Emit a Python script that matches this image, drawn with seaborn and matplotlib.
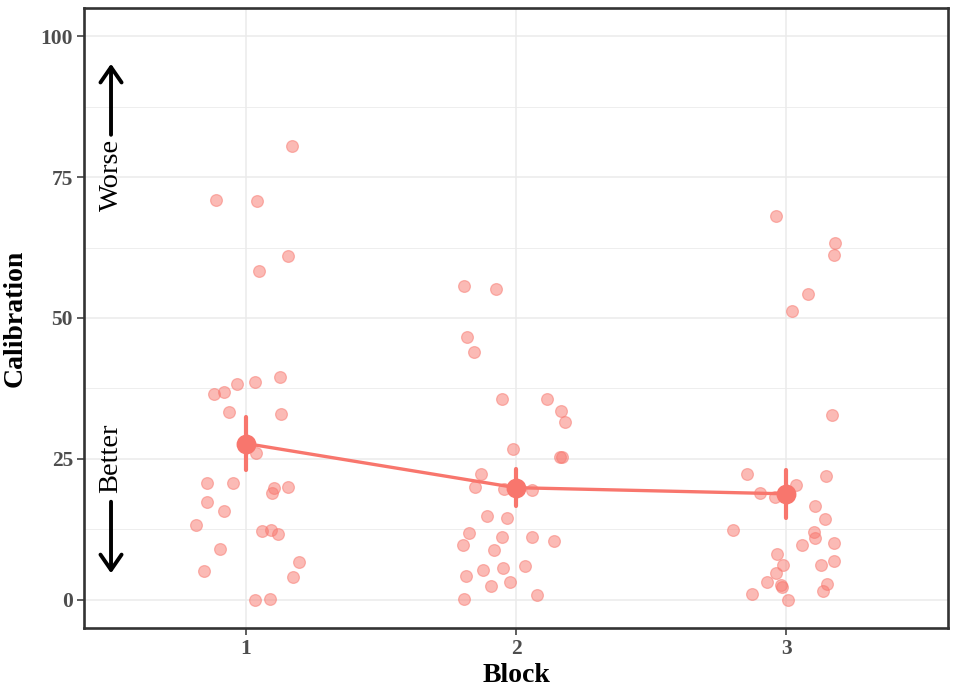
import pandas as pd
import matplotlib.pyplot as plt
import seaborn as sns
from matplotlib.ticker import MultipleLocator

# jittered block positions and calibration scores
block1_x = [1.172, 0.888, 1.042, 1.155, 1.048, 0.880, 0.919, 0.966, 1.033, 1.124,
            0.936, 1.131, 1.037, 0.854, 0.953, 1.104, 1.156, 1.095, 0.857, 0.918,
            0.816, 1.060, 1.091, 1.119, 0.904, 1.196, 0.844, 1.174, 1.033, 1.088]
block1_y = [80.6, 71.0, 70.8, 61.0, 58.3, 36.6, 36.9, 38.2, 38.7, 39.6,
            33.4, 32.9, 26.0, 20.8, 20.7, 19.9, 20.0, 18.9, 17.3, 15.8,
            13.3, 12.2, 12.3, 11.6, 9.0, 6.7, 5.1, 4.0, 0.0, 0.2]

block2_x = [1.808, 1.925, 1.820, 1.846, 1.948, 2.114, 2.165, 2.180, 1.990, 2.163,
            2.172, 1.870, 1.848, 1.956, 2.059, 1.892, 1.968, 1.825, 1.948, 2.059,
            2.139, 1.804, 1.917, 2.032, 1.950, 1.876, 1.813, 1.909, 1.977, 2.079, 1.808]
block2_y = [55.6, 55.1, 46.6, 43.9, 35.7, 35.7, 33.5, 31.6, 26.7, 25.4,
            25.3, 22.4, 20.0, 19.6, 19.4, 14.8, 14.5, 11.9, 11.1, 11.1,
            10.4, 9.7, 8.8, 6.0, 5.7, 5.3, 4.2, 2.5, 3.1, 0.9, 0.2]

block3_x = [2.961, 3.182, 3.176, 3.082, 3.021, 3.169, 2.854, 3.148, 3.038, 2.902,
            2.960, 3.106, 3.144, 2.804, 3.102, 3.109, 3.060, 3.176, 2.968, 2.990,
            3.128, 3.176, 2.961, 2.930, 2.983, 2.985, 3.152, 3.136, 2.873, 3.009]
block3_y = [68.1, 63.3, 61.1, 54.2, 51.2, 32.7, 22.3, 22.0, 20.3, 19.0,
            18.3, 16.7, 14.3, 12.3, 12.0, 11.0, 9.7, 10.0, 8.2, 6.1,
            6.1, 6.9, 4.8, 3.2, 2.6, 2.2, 2.8, 1.5, 1.1, 0.0]

veri = pd.DataFrame({
    "block": [1] * len(block1_y) + [2] * len(block2_y) + [3] * len(block3_y),
    "jitter_x": block1_x + block2_x + block3_x,
    "calibration": block1_y + block2_y + block3_y,
})

renk = "#F8766D"

sns.set_theme(style="whitegrid")
plt.rcParams["font.family"] = ["Liberation Serif", "DejaVu Serif"]

fig = plt.figure(figsize=(9.58, 6.87), dpi=100)
ax = fig.add_axes([0.0877, 0.0859, 0.9019, 0.9025])
ax.set_facecolor("white")

sns.scatterplot(data=veri, x="jitter_x", y="calibration", color=renk, alpha=0.5,
                s=72, edgecolor=renk, linewidth=0.9, ax=ax, zorder=3)
sns.pointplot(data=veri, x="block", y="calibration", native_scale=True,
              errorbar=("se", 1.15), color=renk, markersize=12.5, linewidth=2.4,
              err_kws={"linewidth": 3.0}, ax=ax)

ax.set_xlim(0.4, 3.6)
ax.set_ylim(-5, 105)
ax.set_xticks([1, 2, 3])
ax.set_xticklabels(["1", "2", "3"])
ax.set_yticks([0, 25, 50, 75, 100])
ax.yaxis.set_minor_locator(MultipleLocator(12.5))
ax.grid(which="major", color="#EBEBEB", linewidth=1.1)
ax.grid(which="minor", axis="y", color="#EBEBEB", linewidth=0.6)
ax.set_axisbelow(True)

for s in ax.spines.values():
    s.set_visible(True)
    s.set_color("#333333")
    s.set_linewidth(1.9)

ax.tick_params(which="major", length=5, width=1.1, color="#333333", pad=3,
               labelsize=15.5, labelcolor="#4D4D4D", left=True, bottom=True)
ax.tick_params(which="minor", length=0)
for lab in ax.get_xticklabels() + ax.get_yticklabels():
    lab.set_fontweight("bold")

ax.set_xlabel("Block", fontsize=20, fontweight="bold", color="black", labelpad=3)
ax.set_ylabel("Calibration", fontsize=20, fontweight="bold", color="black", labelpad=9)

# better / worse guides
ax.text(0.5, 75.4, "Worse", rotation=90, ha="center", va="center", fontsize=20.5, color="black")
ax.text(0.5, 25.1, "Better", rotation=90, ha="center", va="center", fontsize=20.5, color="black")
ok = dict(arrowstyle="->,head_length=0.55,head_width=0.38", lw=2.8, color="black",
          shrinkA=0, shrinkB=0, mutation_scale=20)
ax.annotate("", xy=(0.5, 95.1), xytext=(0.5, 82.5), arrowprops=ok)
ax.annotate("", xy=(0.5, 4.7), xytext=(0.5, 17.4), arrowprops=ok)

plt.savefig("out.png", dpi=100)
plt.close()
